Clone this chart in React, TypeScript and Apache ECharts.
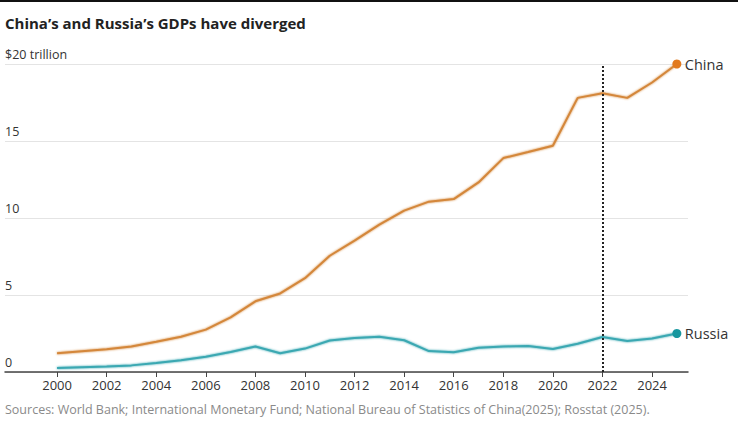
import { useEffect, useRef } from "react";
import * as echarts from "echarts";

// GDP, trillions of US dollars
const years: number[] = [
  2000, 2001, 2002, 2003, 2004, 2005, 2006, 2007, 2008, 2009, 2010, 2011, 2012,
  2013, 2014, 2015, 2016, 2017, 2018, 2019, 2020, 2021, 2022, 2023, 2024, 2025,
];
const china: number[] = [
  1.21, 1.34, 1.47, 1.66, 1.96, 2.29, 2.75, 3.55, 4.59, 5.1, 6.09, 7.55, 8.53,
  9.57, 10.48, 11.06, 11.23, 12.31, 13.89, 14.28, 14.69, 17.8, 18.1, 17.8, 18.8,
  20.0,
];
const russia: number[] = [
  0.26, 0.31, 0.35, 0.43, 0.59, 0.76, 0.99, 1.3, 1.66, 1.22, 1.52, 2.05, 2.21,
  2.29, 2.06, 1.36, 1.28, 1.57, 1.66, 1.69, 1.49, 1.84, 2.27, 2.02, 2.17, 2.5,
];
const yearTicks: number[] = [
  2000, 2002, 2004, 2006, 2008, 2010, 2012, 2014, 2016, 2018, 2020, 2022, 2024,
];
const markerYear = 2022;

const title = "China’s and Russia’s GDPs have diverged";
const source =
  "Sources: World Bank; International Monetary Fund; National Bureau of Statistics of China(2025); Rosstat (2025).";

const FONT = "'Open Sans', 'Noto Sans', sans-serif";

const App: React.FC = () => {
  const chartRef = useRef<HTMLDivElement>(null);

  useEffect(() => {
    const chart = echarts.init(chartRef.current!, null, { renderer: "svg" });
    const last = years.length - 1;

    const lineSeries = (
      name: string,
      values: number[],
      color: string,
      dot: string,
    ): echarts.SeriesOption => ({
      name,
      type: "line",
      data: values.map((v, i) => [years[i], v]),
      symbol: "circle",
      symbolSize: (_v: unknown, p: { dataIndex: number }) =>
        p.dataIndex === last ? 9 : 0,
      itemStyle: { color: dot },
      lineStyle: {
        color,
        width: 2,
        shadowColor: color,
        shadowBlur: 2,
      },
      endLabel: {
        show: true,
        formatter: name,
        color: "#333",
        fontSize: 14.5,
        fontFamily: FONT,
        distance: 8,
      },
      z: 3,
    });

    const option: echarts.EChartsOption = {
      animation: false,
      backgroundColor: "#fff",
      textStyle: { fontFamily: FONT },
      grid: { left: 5, right: 50, top: 64, bottom: 69, containLabel: false },
      graphic: [
        {
          type: "rect",
          left: 0,
          top: 0,
          shape: { width: 738, height: 2 },
          style: { fill: "#111" },
        },
        {
          type: "text",
          left: 5,
          top: 15,
          style: {
            text: title,
            fill: "#222",
            font: `bold 15px ${FONT}`,
          },
        },
        {
          type: "text",
          left: 5,
          top: 403,
          style: {
            text: source,
            fill: "#8a8a8a",
            font: `12.5px ${FONT}`,
          },
        },
      ],
      xAxis: {
        type: "value",
        min: 1997.9,
        max: 2025.45,
        splitLine: { show: false },
        axisLine: { show: true, lineStyle: { color: "#444", width: 1.5 } },
        axisTick: {
          show: true,
          customValues: yearTicks,
          length: 5,
          lineStyle: { color: "#444" },
        },
        axisLabel: {
          customValues: yearTicks,
          color: "#333",
          fontSize: 13,
          margin: 6,
          formatter: (v: number) => String(v),
        },
      },
      yAxis: {
        type: "value",
        min: 0,
        max: 20,
        interval: 5,
        axisLine: { show: false },
        axisTick: { show: false },
        splitLine: { lineStyle: { color: "#e4e4e4", width: 1 } },
        axisLabel: {
          inside: true,
          margin: 0,
          verticalAlign: "bottom",
          padding: [0, 0, 3, 0],
          color: "#333",
          fontSize: 12.5,
          formatter: (v: number) => (v === 20 ? "$20 trillion" : String(v)),
        },
      },
      series: [
        {
          ...lineSeries("China", china, "#d4873a", "#e27a1e"),
          markLine: {
            silent: true,
            symbol: "none",
            label: { show: false },
            lineStyle: { color: "#222", type: "dotted", width: 2 },
            data: [{ xAxis: markerYear }],
          },
        } as echarts.SeriesOption,
        lineSeries("Russia", russia, "#3aa8b2", "#17979f"),
      ],
    };
    chart.setOption(option);

    return () => {
      chart.dispose();
    };
  }, []);

  return (
    <div
      ref={chartRef}
      style={{ position: "fixed", left: 0, top: 0, width: 738, height: 441 }}
    />
  );
};

export default App;
